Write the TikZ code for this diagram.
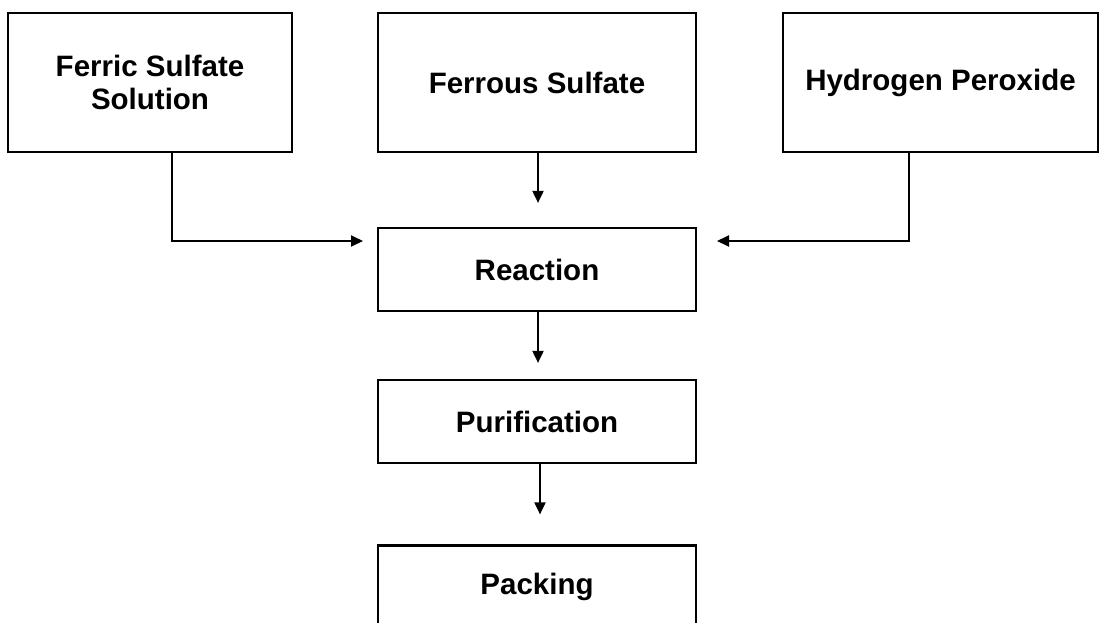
\documentclass[tikz,border=0pt]{standalone}
\usepackage{fontspec}
\setmainfont{Liberation Sans}
\usetikzlibrary{arrows.meta}

\begin{document}
\begin{tikzpicture}[x=1pt, y=-1pt,
		box/.style = {draw, line width=2.2pt, inner sep=0pt, align=center,
			font=\fontsize{29.5}{33}\selectfont\bfseries},
		flow/.style = {line width=1.9pt, -{Triangle[length=12pt, width=11pt]}}]
		\useasboundingbox (0,0) rectangle (1106,622);
		% Laatikot
		\node[box, minimum width=284pt, minimum height=139pt] (ferric) at (150,82.5) {Ferric Sulfate\\Solution};
		\node[box, minimum width=318pt, minimum height=139pt] (ferrous) at (537,82.5) {Ferrous Sulfate};
		\node[box, minimum width=315pt, minimum height=139pt] (peroxide) at (940.5,82.5) {Hydrogen Peroxide};
		\node[box, minimum width=318pt, minimum height=83pt] (reaction) at (537,269.5) {Reaction};
		\node[box, minimum width=318pt, minimum height=83pt] (purification) at (537,421.5) {Purification};
		\node[box, minimum width=318pt, minimum height=83pt] (packing) at (537,587) {Packing};
		% Vapaat paat
		\coordinate (inleft) at (363,241);
		\coordinate (inright) at (717,241);
		% Nuolet
		\draw[flow] (ferric.south -| 172,0) |- (inleft);		% ferric
		\draw[flow, shorten >=24pt] (ferrous.south -| 538,0) -- (reaction.north -| 538,0);	% ferrous
		\draw[flow] (peroxide.south -| 909,0) |- (inright);	% peroxide
		\draw[flow, shorten >=16pt] (reaction.south -| 538,0) -- (purification.north -| 538,0);	% reaction
		\draw[flow, shorten >=30pt] (purification.south -| 540,0) -- (packing.north -| 540,0);	% purification
		\end{tikzpicture}
\end{document}
